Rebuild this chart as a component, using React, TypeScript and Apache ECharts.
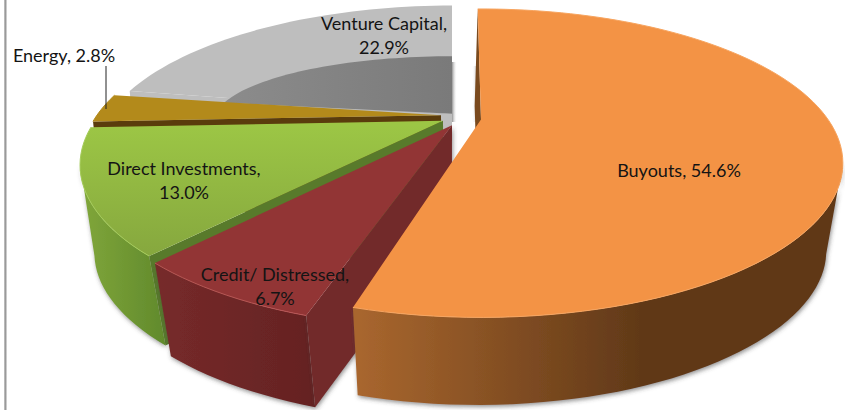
import React, { useEffect, useRef } from "react";
import * as echarts from "echarts";

const categories = ["Buyouts", "Credit/ Distressed", "Direct Investments", "Energy", "Venture Capital"];
const shares = [54.6, 6.7, 13.0, 2.8, 22.9];
const drawOrder = [4, 3, 2, 1, 0];

// projection of the disc plane (perspective view of a 3D pie)
const CX = 450, CY = 118, RX = 346, SY = 141, K = 0.283, K_BOTTOM_X = 0.258;
const BOTTOM_SCALE = 0.97, BOTTOM_DY = 93.5;
const SILHOUETTE_RIGHT = 106, SILHOUETTE_LEFT = 254;

type Look = {
  dX: number; dV: number; dYb: number; a0: number; a1: number;
  top: any; rim: string; wallFrom: string; wallTo: string; wallX: [number, number];
  radial: string; labelX: number; labelY: number; lines: boolean;
};

const vGrad = (y0: number, y1: number, c0: string, c1: string) => ({
  type: "linear", global: true, x: 0, y: y0, x2: 0, y2: y1,
  colorStops: [{ offset: 0, color: c0 }, { offset: 1, color: c1 }],
});
const hGrad = (x0: number, x1: number, c0: string, c1: string) => ({
  type: "linear", global: true, x: x0, y: 0, x2: x1, y2: 0,
  colorStops: [{ offset: 0, color: c0 }, { offset: 1, color: c1 }],
});

const looks: Look[] = [
  { dX: 31, dV: 0.01, dYb: 0, a0: -0.7, a1: -1, top: "#F39345", rim: "#F7A560", wallFrom: "#A8662E", wallTo: "#613918", wallX: [360, 640], radial: "#7A4A1E", labelX: 679, labelY: 170, lines: false },
  { dX: 2, dV: 0.05, dYb: 4, a0: 1, a1: 1, top: "#923535", rim: "#B85555", wallFrom: "#762A2A", wallTo: "#642222", wallX: [160, 320], radial: "#722A2A", labelX: 275, labelY: 286, lines: true },
  { dX: -7, dV: 0.02, dYb: 0, a0: 1, a1: 0, top: vGrad(125, 262, "#9CC645", "#85A63E"), rim: "#A5CC5A", wallFrom: "#7FA53A", wallTo: "#618A2C", wallX: [85, 165], radial: "#587A2B", labelX: 184, labelY: 180, lines: true },
  { dX: -9, dV: -0.02, dYb: 0, a0: 0, a1: 1, top: "#B38A1B", rim: "#B38A1B", wallFrom: "#5A3C0C", wallTo: "#5A3C0C", wallX: [90, 440], radial: "#5A3C0C", labelX: 64, labelY: 55, lines: false },
  { dX: 2, dV: -0.03, dYb: 0, a0: 2.4, a1: 0, top: "#BEBEBE", rim: "#BEBEBE", wallFrom: "#808080", wallTo: "#808080", wallX: [120, 450], radial: "#BEBEBE", labelX: 384, labelY: 35, lines: true },
];

const project = (look: Look, u: number, v: number, bottom = false): [number, number] => {
  const d = 1 - K * v;
  if (bottom) {
    const dx = 1 - K_BOTTOM_X * v;
    return [CX + 0.9 * look.dX + BOTTOM_SCALE * RX * u / dx, CY + BOTTOM_DY + look.dYb + BOTTOM_SCALE * SY * v / d];
  }
  return [CX + look.dX + RX * u / d, CY + SY * v / d];
};

const sliceRange = (i: number) => {
  let sum = 0;
  for (let j = 0; j < i; j++) sum += shares[j];
  const total = shares.reduce((a, b) => a + b, 0);
  return [(sum / total) * 360 + looks[i].a0, ((sum + shares[i]) / total) * 360 + looks[i].a1];
};

const arc = (look: Look, a0: number, a1: number, bottom = false, ru = 1, rv = 1) => {
  const out: [number, number][] = [];
  const n = Math.max(4, Math.ceil(Math.abs(a1 - a0) / 2));
  for (let s = 0; s <= n; s++) {
    const t = ((a0 + ((a1 - a0) * s) / n) * Math.PI) / 180;
    out.push(project(look, ru * Math.sin(t), look.dV - rv * Math.cos(t), bottom));
  }
  return out;
};

const poly = (points: [number, number][], fill: any, extra: any = {}) => ({
  type: "polygon", shape: { points }, style: { fill, ...extra },
});

const renderItem = (_: any, api: any) => {
  const i = api.value(0) as number;
  const look = looks[i];
  const [a0, a1] = sliceRange(i);
  const apex = project(look, 0, look.dV);
  const apexB = project(look, 0, look.dV, true);
  const topArc = arc(look, a0, a1);
  const botArc = arc(look, a0, a1, true);
  const children: any[] = [];
  const shadow = { shadowColor: "rgba(60,60,60,0.55)", shadowBlur: 4, shadowOffsetY: 2, shadowOffsetX: 1 };
  const radialWall = poly([topArc[0], apex, apexB, botArc[0]], look.radial, i === 1 ? shadow : {});
  const front = (t0: number, t1: number) => [...arc(look, t0, t1), ...arc(look, t0, t1, true).reverse()];
  const wallFill = hGrad(look.wallX[0], look.wallX[1], look.wallFrom, look.wallTo);

  if (i === 4) {
    children.push(radialWall);
    children.push(poly([apex, ...topArc], look.top));
    children.push(poly([apex, ...arc(look, a0, a1, false, 0.69, 0.47)], hGrad(220, 452, "#8C8C8C", "#7A7A7A")));
    children.push(poly([[452, 62], [457, 62], [457, 122], [452, 122]], hGrad(452, 457, "rgba(110,110,110,0.75)", "rgba(255,255,255,0)")));
    children.push(poly([[472, 66], [478, 66], [478, 122], [472, 122]], hGrad(472, 478, "rgba(255,255,255,0)", "rgba(130,130,130,0.7)")));
  } else {
    if (i === 0) {
      children.push(radialWall);
      children.push(poly(front(SILHOUETTE_RIGHT, a1), wallFill, shadow));
    } else if (i === 3) {
      children.push(radialWall);
    } else {
      children.push(poly(front(a0, i === 2 ? SILHOUETTE_LEFT : a1), wallFill, shadow));
      children.push(radialWall);
    }
    children.push(poly([apex, ...topArc], look.top));
    children.push({ type: "polyline", shape: { points: topArc }, style: { fill: null, stroke: look.rim, lineWidth: 1 } });
  }
  const label = categories[i] + ", " + shares[i].toFixed(1) + "%";
  children.push({
    type: "text", z2: 50,
    style: {
      text: look.lines ? label.replace(", ", ",\n") : label,
      x: look.labelX, y: look.labelY, align: "center", verticalAlign: "middle",
      font: '18px Lato, "Open Sans", sans-serif', fill: "#141414", lineHeight: 24,
    },
  });
  if (i === 3) {
    children.push({ type: "line", shape: { x1: 106, y1: 66, x2: 106, y2: 109 }, style: { stroke: "#222222", lineWidth: 1 } });
  }
  return { type: "group", children };
};

export default function App() {
  const ref = useRef<HTMLDivElement>(null);
  useEffect(() => {
    document.body.style.margin = "0";
    document.body.style.background = "#ffffff";
    const chart = echarts.init(ref.current!, undefined, { renderer: "svg" });
    chart.setOption({
      animation: false,
      graphic: [
        { type: "rect", shape: { x: 4, y: 0, width: 3, height: 410 }, style: { fill: hGrad(4, 7, "#B4B4B4", "#D0D0D0") }, silent: true },
        { type: "rect", shape: { x: 5, y: 0, width: 1, height: 410 }, style: { fill: "#9A9A9A" }, silent: true },
      ],
      series: [
        {
          type: "custom",
          coordinateSystem: "none",
          renderItem,
          data: drawOrder.map((i) => [i, shares[i]]),
        },
      ],
    });
    return () => chart.dispose();
  }, []);
  return <div ref={ref} style={{ width: 845, height: 410 }} />;
}
